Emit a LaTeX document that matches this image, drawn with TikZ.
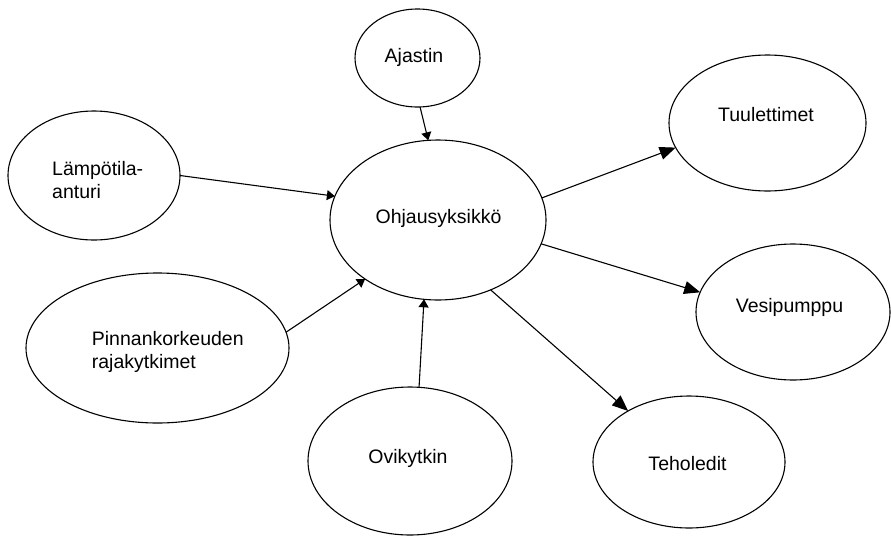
\documentclass[tikz,border=0pt]{standalone}
\usepackage{fontspec}
\setmainfont{Liberation Sans}
\usetikzlibrary{shapes.geometric,arrows.meta}

\tikzset{
  bubble/.style n args={2}{ellipse, draw=black, line width=1.1pt,
    inner sep=0pt, outer sep=0pt, minimum width=#1, minimum height=#2},
  caption/.style={font=\fontsize{19.5}{23}\selectfont, inner sep=0pt, text=black},
  inlink/.style={line width=1.1pt, -{Triangle[length=8pt,width=10pt]}},
  outlink/.style={line width=1.1pt, -{Triangle[length=16pt,width=13pt]}},
}

\begin{document}
\begin{tikzpicture}[x=1pt, y=-1pt]
  \useasboundingbox (0,0) rectangle (891,536);
  \fill[white] (0,0) rectangle (891,536);

  % ellipses (centre, full width, full height)
  \node[bubble={125pt}{98pt}]  (aja) at (417.5,58)  {};
  \node[bubble={216pt}{160pt}] (ohj) at (438,220)   {};
  \node[bubble={172pt}{129pt}] (lam) at (94,175.5)  {};
  \node[bubble={263pt}{150pt}] (pin) at (157.5,348) {};
  \node[bubble={204pt}{148pt}] (ovi) at (410,461)   {};
  \node[bubble={197pt}{136pt}] (tuu) at (767.5,123) {};
  \node[bubble={194pt}{136pt}] (ves) at (793,312)   {};
  \node[bubble={192pt}{132pt}] (teh) at (689,462)   {};

  % captions
  \node[caption, anchor=base] (aja-t) at (414,62)    {Ajastin};
  \node[caption, anchor=base] (ohj-t) at (438.5,223) {Ohjausyksikkö};
  \node[caption, anchor=west, align=left] (lam-t) at (52,180.4) {Lämpötila-\\anturi};
  \node[caption, anchor=west, align=left] (pin-t) at (91.7,351.5) {Pinnankorkeuden\\rajakytkimet};
  \node[caption, anchor=base] (ovi-t) at (408,463)   {Ovikytkin};
  \node[caption, anchor=base] (tuu-t) at (766,121.7) {Tuulettimet};
  \node[caption, anchor=base] (ves-t) at (789.5,312) {Vesipumppu};
  \node[caption, anchor=base] (teh-t) at (687.5,470) {Teholedit};

  % inputs to the control unit
  \draw[inlink] (aja.273)  -- (ohj.97.1);
  \draw[inlink] (lam.0)    -- (ohj.167.8);
  \draw[inlink] (pin.7.4)  -- (ohj.219.2);
  \draw[inlink] (ovi.83.8) -- (ohj.260.1);

  % outputs from the control unit
  \draw[outlink] (ohj.12.4)  -- (tuu.195.1);
  \draw[outlink] (ohj.347.8) -- (ves.168.5);
  \draw[outlink] (ohj.307.4) -- (teh.140.7);
\end{tikzpicture}
\end{document}
